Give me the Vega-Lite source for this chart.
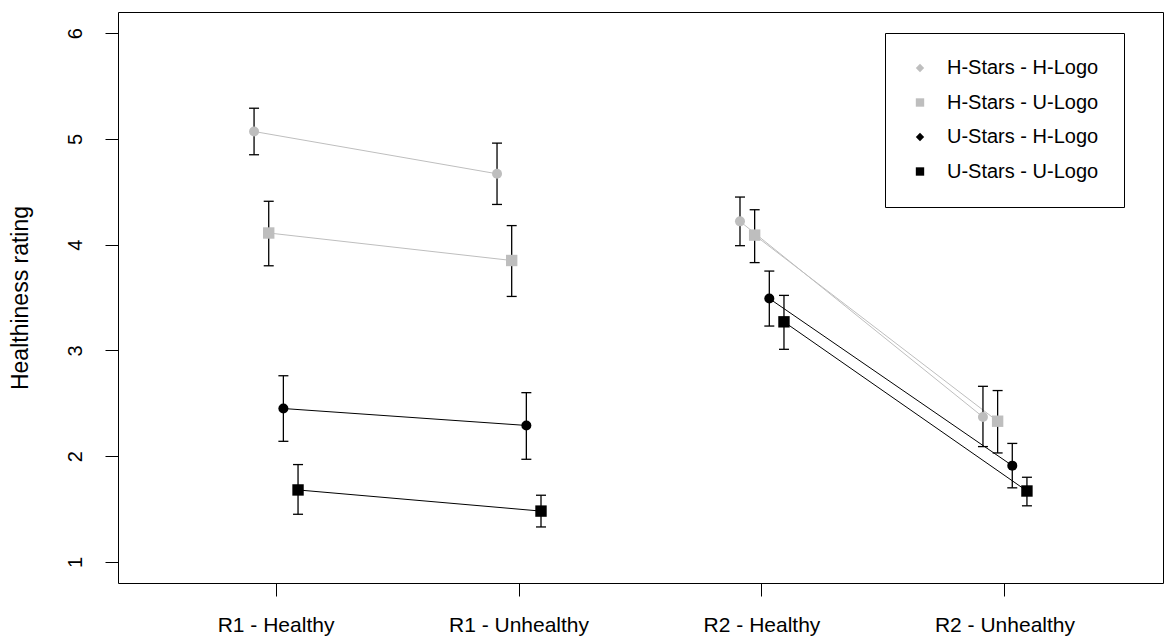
{
  "$schema": "https://vega.github.io/schema/vega-lite/v6.json",
  "width": 1045,
  "height": 571,
  "autosize": {"type": "none"},
  "padding": {"left": 118, "top": 12, "right": 3, "bottom": 55},
  "background": "#ffffff",
  "config": {
    "font": "Liberation Sans",
    "view": {"stroke": "#000000", "strokeWidth": 1},
    "axis": {
      "grid": false,
      "domain": false,
      "tickColor": "#000000",
      "tickSize": 13,
      "tickWidth": 1,
      "labelColor": "#000000",
      "labelFont": "Liberation Sans",
      "labelFontSize": 20,
      "titleFont": "Liberation Sans",
      "titleFontSize": 23,
      "titleFontWeight": "normal",
      "titleColor": "#000000"
    },
    "legend": {
      "orient": "none",
      "legendX": 767,
      "legendY": 21,
      "strokeColor": "#000000",
      "fillColor": "#ffffff",
      "padding": 25,
      "rowPadding": 14.5,
      "labelFont": "Liberation Sans",
      "labelFontSize": 20,
      "labelColor": "#000000",
      "labelOffset": 17,
      "labelLimit": 400,
      "symbolSize": 70,
      "symbolStrokeWidth": 0
    }
  },
  "data": {
    "values": [
      {"series": "H-Stars - H-Logo", "cond": "R1 - Healthy", "round": "R1", "mean": 5.07, "lo": 4.85, "hi": 5.29},
      {"series": "H-Stars - H-Logo", "cond": "R1 - Unhealthy", "round": "R1", "mean": 4.67, "lo": 4.38, "hi": 4.96},
      {"series": "H-Stars - H-Logo", "cond": "R2 - Healthy", "round": "R2", "mean": 4.22, "lo": 3.99, "hi": 4.45},
      {"series": "H-Stars - H-Logo", "cond": "R2 - Unhealthy", "round": "R2", "mean": 2.37, "lo": 2.09, "hi": 2.66},
      {"series": "H-Stars - U-Logo", "cond": "R1 - Healthy", "round": "R1", "mean": 4.11, "lo": 3.80, "hi": 4.41},
      {"series": "H-Stars - U-Logo", "cond": "R1 - Unhealthy", "round": "R1", "mean": 3.85, "lo": 3.51, "hi": 4.18},
      {"series": "H-Stars - U-Logo", "cond": "R2 - Healthy", "round": "R2", "mean": 4.09, "lo": 3.83, "hi": 4.33},
      {"series": "H-Stars - U-Logo", "cond": "R2 - Unhealthy", "round": "R2", "mean": 2.33, "lo": 2.03, "hi": 2.62},
      {"series": "U-Stars - H-Logo", "cond": "R1 - Healthy", "round": "R1", "mean": 2.45, "lo": 2.14, "hi": 2.76},
      {"series": "U-Stars - H-Logo", "cond": "R1 - Unhealthy", "round": "R1", "mean": 2.29, "lo": 1.97, "hi": 2.60},
      {"series": "U-Stars - H-Logo", "cond": "R2 - Healthy", "round": "R2", "mean": 3.49, "lo": 3.23, "hi": 3.75},
      {"series": "U-Stars - H-Logo", "cond": "R2 - Unhealthy", "round": "R2", "mean": 1.91, "lo": 1.70, "hi": 2.12},
      {"series": "U-Stars - U-Logo", "cond": "R1 - Healthy", "round": "R1", "mean": 1.68, "lo": 1.45, "hi": 1.92},
      {"series": "U-Stars - U-Logo", "cond": "R1 - Unhealthy", "round": "R1", "mean": 1.48, "lo": 1.33, "hi": 1.63},
      {"series": "U-Stars - U-Logo", "cond": "R2 - Healthy", "round": "R2", "mean": 3.27, "lo": 3.01, "hi": 3.52},
      {"series": "U-Stars - U-Logo", "cond": "R2 - Unhealthy", "round": "R2", "mean": 1.67, "lo": 1.53, "hi": 1.80}
    ]
  },
  "encoding": {
    "x": {
      "field": "cond",
      "type": "nominal",
      "sort": ["R1 - Healthy", "R1 - Unhealthy", "R2 - Healthy", "R2 - Unhealthy"],
      "scale": {"type": "band", "paddingInner": 0.819, "paddingOuter": 0.56},
      "axis": {"title": null, "labelAngle": 0, "labelPadding": 18, "labelBaseline": "top", "labelFontSize": 21}
    },
    "xOffset": {
      "field": "series",
      "type": "nominal",
      "scale": {"type": "point", "padding": 0}
    }
  },
  "layer": [
    {
      "mark": {"type": "line", "strokeWidth": 1},
      "encoding": {
        "y": {
          "field": "mean",
          "type": "quantitative",
          "scale": {"domain": [0.8, 6.2], "nice": false, "zero": false},
          "axis": {
            "title": "Healthiness rating",
            "values": [1, 2, 3, 4, 5, 6],
            "format": "d",
            "labelAngle": 270,
            "labelAlign": "center",
            "labelBaseline": "alphabetic",
            "labelPadding": 24,
            "titlePadding": 33
          }
        },
        "stroke": {
          "field": "series",
          "type": "nominal",
          "scale": {"range": ["#bebebe", "#bebebe", "#000000", "#000000"]},
          "legend": null
        },
        "detail": {"field": "round", "type": "nominal"}
      }
    },
    {
      "mark": {"type": "rule", "color": "#000000", "strokeWidth": 1.3},
      "encoding": {
        "y": {"field": "lo", "type": "quantitative"},
        "y2": {"field": "hi"}
      }
    },
    {
      "mark": {"type": "point", "shape": "stroke", "size": 100, "filled": false, "color": "#000000", "strokeWidth": 1.3, "opacity": 1},
      "encoding": {
        "y": {"field": "lo", "type": "quantitative"}
      }
    },
    {
      "mark": {"type": "point", "shape": "stroke", "size": 100, "filled": false, "color": "#000000", "strokeWidth": 1.3, "opacity": 1},
      "encoding": {
        "y": {"field": "hi", "type": "quantitative"}
      }
    },
    {
      "mark": {"type": "point", "filled": true, "opacity": 1, "size": 40, "strokeWidth": 0},
      "encoding": {
        "y": {"field": "mean", "type": "quantitative"},
        "color": {
          "field": "series",
          "type": "nominal",
          "scale": {"range": ["#bebebe", "#bebebe", "#000000", "#000000"]},
          "legend": {"title": null}
        },
        "shape": {
          "field": "series",
          "type": "nominal",
          "scale": {"range": ["diamond", "square", "diamond", "square"]},
          "legend": {"title": null}
        }
      }
    },
    {
      "transform": [{"filter": {"field": "series", "equal": "H-Stars - H-Logo"}}],
      "mark": {"type": "point", "shape": "circle", "filled": true, "opacity": 1, "size": 100, "strokeWidth": 0, "color": "#bebebe"},
      "encoding": {"y": {"field": "mean", "type": "quantitative"}}
    },
    {
      "transform": [{"filter": {"field": "series", "equal": "U-Stars - H-Logo"}}],
      "mark": {"type": "point", "shape": "circle", "filled": true, "opacity": 1, "size": 100, "strokeWidth": 0, "color": "#000000"},
      "encoding": {"y": {"field": "mean", "type": "quantitative"}}
    },
    {
      "transform": [{"filter": {"field": "series", "equal": "H-Stars - U-Logo"}}],
      "mark": {"type": "point", "shape": "square", "filled": true, "opacity": 1, "size": 130, "strokeWidth": 0, "color": "#bebebe"},
      "encoding": {"y": {"field": "mean", "type": "quantitative"}}
    },
    {
      "transform": [{"filter": {"field": "series", "equal": "U-Stars - U-Logo"}}],
      "mark": {"type": "point", "shape": "square", "filled": true, "opacity": 1, "size": 130, "strokeWidth": 0, "color": "#000000"},
      "encoding": {"y": {"field": "mean", "type": "quantitative"}}
    }
  ]
}
